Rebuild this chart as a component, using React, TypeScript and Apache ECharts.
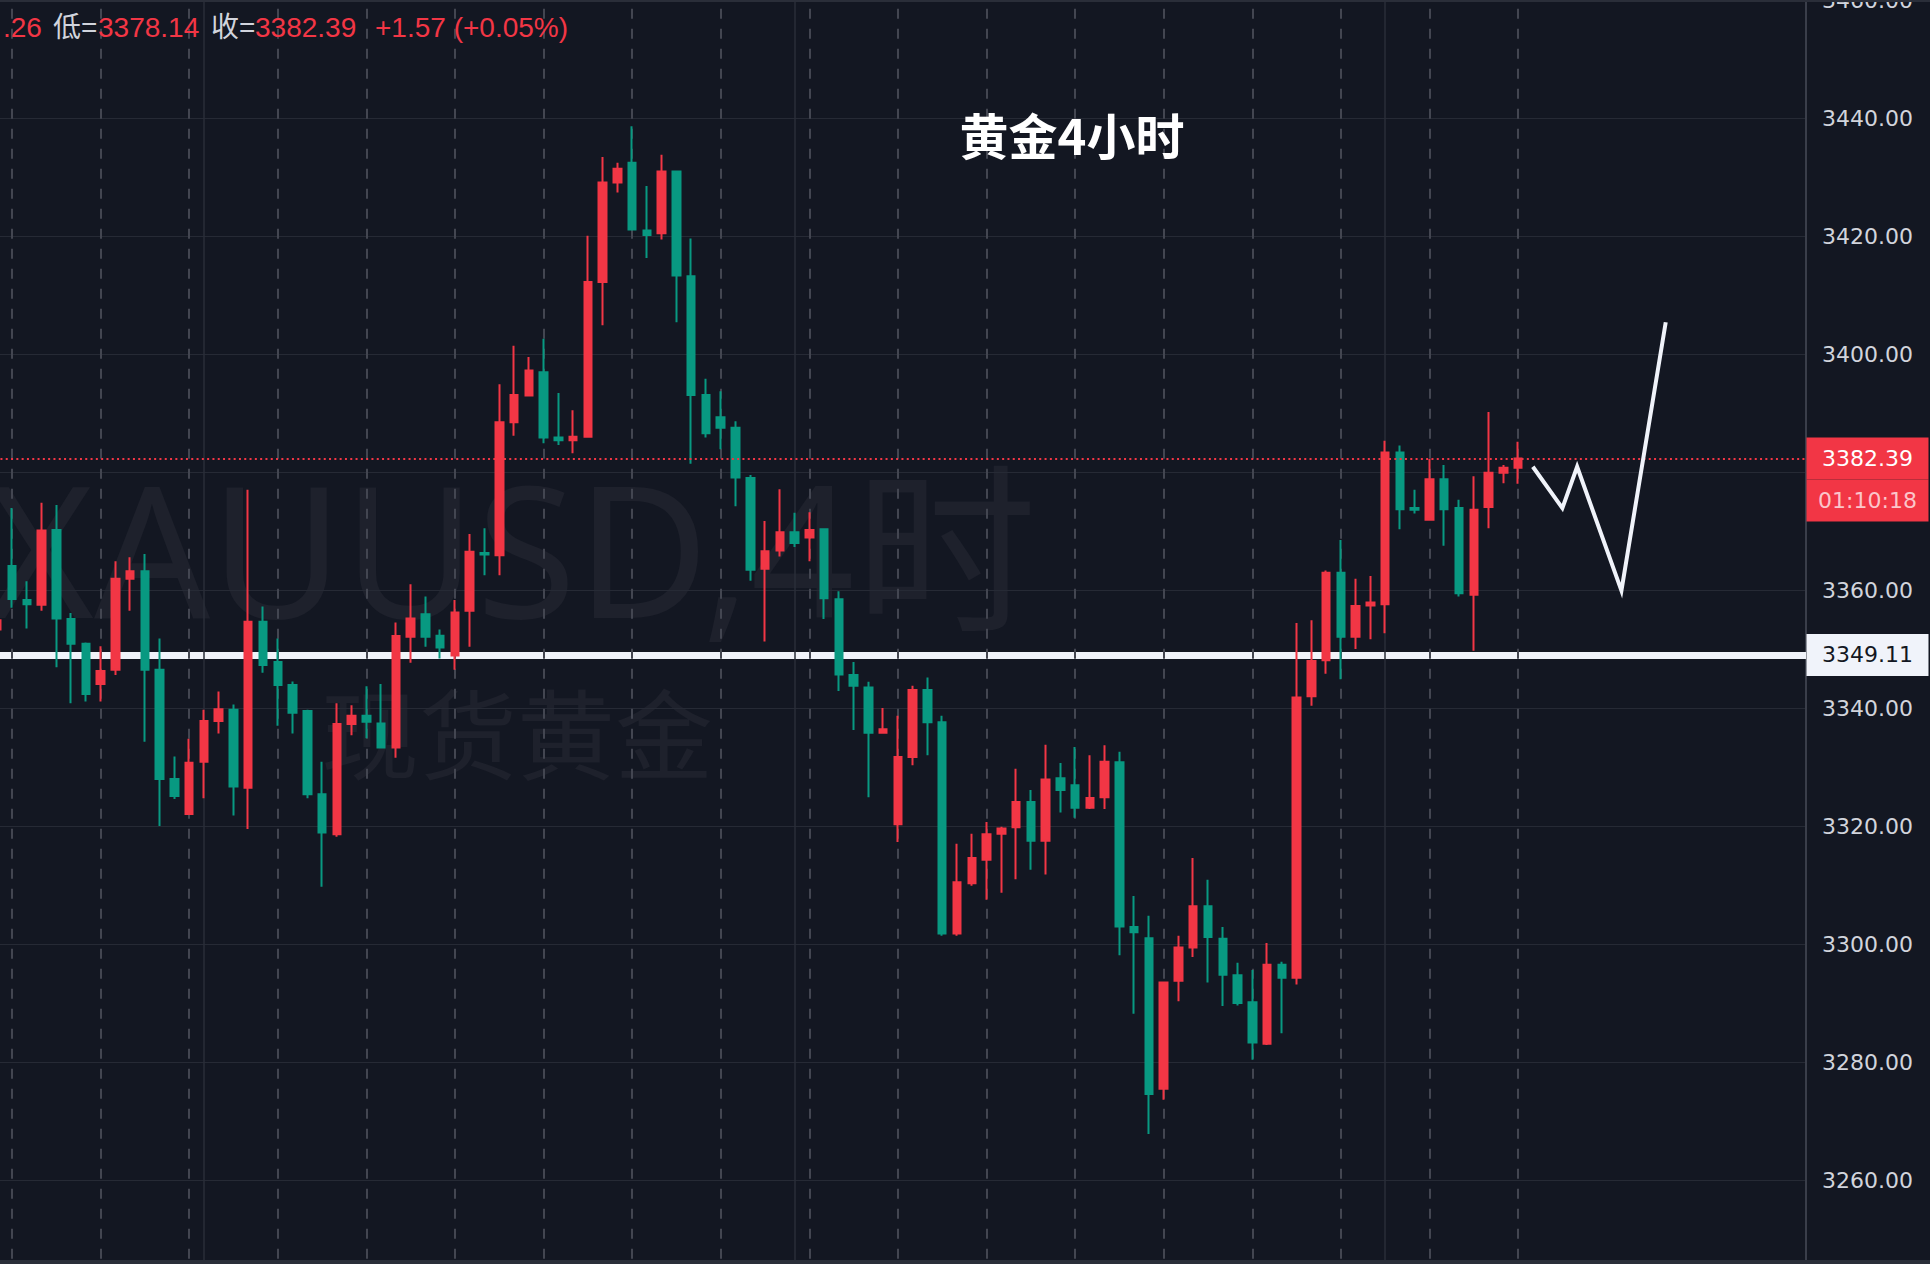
import React, { useEffect, useRef } from 'react';
import * as echarts from 'echarts';

// ---- data (index -1 .. 102, 4h candles) ----
const FIRST_INDEX = -1;
const LAST_SLOT = 121;

const opens = [
  3353.4, 3364.2, 3358.4, 3357.6, 3370.3, 3355.2, 3351.0, 3344.2, 3346.6, 3362.0,
  3363.3, 3346.6, 3328.1, 3322.15, 3331.0, 3337.9, 3339.8, 3326.6, 3354.75, 3347.9,
  3344.0, 3339.6, 3325.5, 3318.7, 3337.4, 3338.8, 3337.5, 3333.4, 3352.2, 3356.0,
  3352.35, 3349.0, 3356.6, 3366.4, 3366.0, 3388.55, 3393.1, 3397.0, 3385.95, 3385.5,
  3386.1, 3412.3, 3429.2, 3432.55, 3421.05, 3420.6, 3431.05, 3413.3, 3393.15, 3389.4,
  3387.6, 3379.1, 3363.7, 3366.8, 3369.9, 3369.0, 3370.4, 3358.55, 3345.7, 3343.6,
  3335.9, 3320.4, 3331.8, 3343.15, 3337.7, 3301.9, 3310.4, 3314.4, 3318.8, 3319.9,
  3324.2, 3317.6, 3328.2, 3327.0, 3323.2, 3325.0, 3330.9, 3303.0, 3301.1, 3275.6,
  3293.9, 3299.5, 3306.5, 3301.0, 3294.8, 3290.25, 3283.2, 3296.6, 3294.4, 3342.1,
  3348.2, 3363.05, 3352.2, 3357.5, 3357.7, 3383.4, 3374.0, 3372.0, 3378.9, 3374.0,
  3359.3, 3374.2, 3380.0, 3380.82,
];
const closes = [
  3355.0, 3358.6, 3357.7, 3370.2, 3355.3, 3351.0, 3342.5, 3346.4, 3362.0, 3363.3,
  3346.6, 3328.1, 3325.2, 3330.85, 3337.9, 3339.9, 3326.8, 3354.75, 3347.4, 3344.0,
  3339.3, 3325.5, 3319.0, 3337.4, 3338.8, 3337.8, 3333.4, 3352.3, 3355.3, 3352.2,
  3350.35, 3356.3, 3366.6, 3366.15, 3388.55, 3393.15, 3397.3, 3385.95, 3385.5, 3386.1,
  3412.3, 3429.2, 3431.5, 3421.2, 3420.3, 3431.05, 3413.4, 3393.15, 3386.7, 3387.6,
  3379.2, 3363.55, 3366.7, 3369.9, 3368.1, 3370.3, 3358.7, 3345.8, 3343.9, 3335.9,
  3336.5, 3331.8, 3343.15, 3337.7, 3301.9, 3310.6, 3314.7, 3318.7, 3319.7, 3324.2,
  3317.6, 3328.0, 3326.2, 3323.2, 3324.85, 3331.0, 3303.1, 3302.1, 3274.7, 3293.6,
  3299.5, 3306.5, 3301.3, 3294.9, 3290.1, 3283.4, 3296.6, 3294.4, 3341.9, 3348.1,
  3363.05, 3352.2, 3357.4, 3358.0, 3383.4, 3373.8, 3373.7, 3378.9, 3373.8, 3359.55,
  3373.7, 3380.0, 3380.85, 3382.39,
];
const lows = [
  3352.5, 3357.1, 3353.6, 3356.6, 3347.0, 3340.9, 3341.2, 3341.2, 3345.7, 3356.6,
  3334.4, 3320.1, 3324.7, 3322.0, 3324.8, 3335.8, 3321.9, 3319.6, 3346.1, 3337.1,
  3335.8, 3324.8, 3309.8, 3318.3, 3335.5, 3335.0, 3333.3, 3331.7, 3347.8, 3350.5,
  3348.5, 3346.6, 3350.5, 3362.6, 3362.6, 3386.25, 3393.0, 3385.0, 3384.7, 3383.3,
  3386.0, 3405.0, 3427.5, 3421.1, 3416.4, 3419.5, 3405.5, 3381.5, 3385.95, 3383.95,
  3374.3, 3361.7, 3351.4, 3365.8, 3367.4, 3365.0, 3355.2, 3343.0, 3336.4, 3325.0,
  3335.8, 3317.4, 3330.4, 3332.1, 3301.5, 3301.5, 3310.0, 3307.6, 3308.8, 3311.1,
  3312.7, 3311.9, 3322.4, 3321.5, 3323.0, 3323.0, 3298.2, 3288.3, 3267.9, 3273.7,
  3290.4, 3297.9, 3293.6, 3289.6, 3289.7, 3280.5, 3283.0, 3285.0, 3293.25, 3340.5,
  3345.9, 3345.0, 3350.1, 3351.75, 3352.8, 3370.4, 3373.1, 3372.0, 3367.6, 3359.0,
  3349.8, 3370.6, 3378.2, 3378.14,
];
const highs = [
  3356.0, 3374.0, 3361.6, 3374.9, 3374.5, 3356.2, 3351.2, 3350.6, 3365.0, 3365.65,
  3366.2, 3351.9, 3331.9, 3334.9, 3339.8, 3342.9, 3340.7, 3377.1, 3357.3, 3351.9,
  3344.6, 3339.8, 3331.0, 3340.9, 3340.6, 3343.8, 3344.2, 3354.6, 3361.1, 3359.0,
  3353.4, 3358.4, 3369.6, 3370.6, 3395.0, 3401.5, 3399.6, 3402.7, 3393.5, 3390.6,
  3420.15, 3433.5, 3432.55, 3438.7, 3428.6, 3433.9, 3431.2, 3419.7, 3395.9, 3393.8,
  3388.7, 3379.6, 3371.8, 3377.2, 3373.2, 3373.3, 3370.5, 3359.9, 3347.9, 3344.55,
  3340.1, 3338.8, 3343.9, 3345.3, 3338.8, 3317.1, 3318.8, 3320.8, 3320.0, 3329.8,
  3326.2, 3333.9, 3330.8, 3333.5, 3332.1, 3333.8, 3332.7, 3308.25, 3304.9, 3293.75,
  3301.5, 3314.7, 3311.0, 3303.0, 3296.95, 3295.7, 3300.3, 3297.1, 3354.5, 3355.0,
  3363.4, 3368.6, 3362.0, 3362.5, 3385.4, 3384.6, 3377.1, 3382.3, 3381.3, 3375.4,
  3379.4, 3390.3, 3381.3, 3385.26,
];

// vertical lines (candle indices)
const sessionBreaks = [0, 6, 12, 18, 24, 30, 36, 42, 48, 54, 60, 66, 72, 78, 84, 90, 96, 102];
const timeGridLines = [13, 53, 93];

// hand-drawn projection
const projectionIdx = [103, 105, 106, 109, 112];
const projectionPrice = [3381, 3374, 3381, 3360, 3405.5];

// price axis
const yMin = 3240;
const yMax = 3460;
const yStep = 20;

const lastClose = 3382.39;
const countdown = '01:10:18';
const levelPrice = 3349.11;

const headerParts = ['.26', '低=', '3378.14', '收=', '3382.39', '+1.57 (+0.05%)'];
const headerIsValue = [true, false, true, false, true, true];

const title = '黄金4小时';
const watermark1 = 'XAUUSD,4时';
const watermark2 = '现货黄金';

const UP = '#f23645';
const DOWN = '#089981';
const BG = '#131722';
const AXIS_FONT = '"DejaVu Sans", sans-serif';

const slot = (i: number) => i - FIRST_INDEX;

export default function App() {
  const ref = useRef<HTMLDivElement>(null);

  useEffect(() => {
    if (!ref.current) return;
    const chart = echarts.init(ref.current, null, { renderer: 'svg' });

    const categories = Array.from({ length: LAST_SLOT - FIRST_INDEX + 1 }, (_, k) => String(k + FIRST_INDEX));
    const candles = opens.map((o, i) => [o, closes[i], lows[i], highs[i]]);
    const projection = projectionIdx.map((i, k) => [slot(i), projectionPrice[k]]);

    const headerX = [3, 53, 98, 211, 255, 375];

    const option: any = {
      animation: false,
      backgroundColor: BG,
      grid: {
        left: -10.15,
        top: 0.67,
        width: 1816.15,
        height: 1298,
        containLabel: false,
        outerBoundsMode: 'none',
      },
      xAxis: {
        type: 'category',
        data: categories,
        boundaryGap: true,
        axisLine: { show: false },
        axisTick: { show: false },
        axisLabel: { show: false },
        splitLine: { show: false },
      },
      yAxis: {
        type: 'value',
        position: 'right',
        min: yMin,
        max: yMax,
        interval: yStep,
        axisLine: { show: true, lineStyle: { color: '#3a3e4a', width: 2 } },
        axisTick: { show: false },
        axisLabel: {
          color: '#d1d4dc',
          fontSize: 22,
          fontFamily: AXIS_FONT,
          margin: 16,
          showMinLabel: false,
          // labels hidden behind the last-price tag, as on the reference
          formatter: (v: number) => (Math.abs(v - lastClose) < 8 ? '' : v.toFixed(2)),
        },
        splitLine: { show: true, lineStyle: { color: '#262a35', width: 1 } },
      },
      series: [
        {
          type: 'line',
          name: 'level',
          data: [],
          silent: true,
          markLine: {
            z: 0.5,
            silent: true,
            symbol: ['none', 'none'],
            data: [{ yAxis: levelPrice }],
            lineStyle: { color: '#f0f3fa', width: 7, type: 'solid' },
            label: {
              show: true,
              position: 'end',
              distance: 0.5,
              formatter: () => '{w|' + levelPrice.toFixed(2) + '}',
              rich: {
                w: {
                  width: 122,
                  height: 42,
                  lineHeight: 42,
                  align: 'center',
                  backgroundColor: '#f0f3fa',
                  color: '#131722',
                  fontSize: 22,
                  fontFamily: AXIS_FONT,
                },
              },
            },
          },
        },
        {
          type: 'line',
          name: 'vertical',
          data: [],
          silent: true,
          markLine: {
            z: 1,
            silent: true,
            symbol: ['none', 'none'],
            label: { show: false },
            data: [
              ...sessionBreaks.map((i) => ({
                xAxis: slot(i),
                lineStyle: { color: '#434651', width: 2, type: [10, 10] },
              })),
              ...timeGridLines.map((i) => ({
                xAxis: slot(i),
                lineStyle: { color: '#2a2e39', width: 1.5, type: 'solid' },
              })),
            ],
          },
        },
        {
          type: 'candlestick',
          name: 'XAUUSD',
          data: candles,
          barWidth: 8,
          z: 2,
          silent: true,
          itemStyle: {
            color: UP,
            color0: DOWN,
            borderColor: UP,
            borderColor0: DOWN,
            borderWidth: 2,
          },
          markLine: {
            z: 3,
            silent: true,
            symbol: ['none', 'none'],
            data: [{ yAxis: lastClose }],
            lineStyle: { color: UP, width: 2, type: [2, 3.3] },
            label: {
              show: true,
              position: 'end',
              distance: 0.5,
              offset: [0, 21],
              formatter: () => '{p|' + lastClose.toFixed(2) + '}\n{t|' + countdown + '}',
              rich: {
                p: {
                  width: 122,
                  height: 42,
                  lineHeight: 42,
                  align: 'center',
                  backgroundColor: UP,
                  color: '#ffffff',
                  fontSize: 22,
                  fontFamily: AXIS_FONT,
                },
                t: {
                  width: 122,
                  height: 42,
                  lineHeight: 42,
                  align: 'center',
                  backgroundColor: UP,
                  color: 'rgba(255,255,255,0.72)',
                  fontSize: 22,
                  fontFamily: AXIS_FONT,
                },
              },
            },
          },
        },
        {
          type: 'line',
          name: 'projection',
          data: projection,
          z: 4,
          silent: true,
          showSymbol: false,
          symbol: 'none',
          lineStyle: { color: '#f0f3fa', width: 4, join: 'miter', cap: 'butt' },
        },
      ],
      graphic: [
        {
          type: 'text',
          x: 512,
          y: 547,
          z: -1,
          silent: true,
          style: {
            text: watermark1,
            font: 'normal 182px "Noto Sans", "Noto Sans CJK SC", sans-serif',
            fill: '#1e212c',
            align: 'center',
            verticalAlign: 'middle',
          },
        },
        {
          type: 'text',
          x: 517,
          y: 729,
          z: -1,
          silent: true,
          style: {
            text: watermark2,
            font: 'normal 98px "Noto Sans CJK SC", sans-serif',
            fill: '#1e212c',
            align: 'center',
            verticalAlign: 'middle',
          },
        },
        {
          type: 'text',
          x: 1072,
          y: 133,
          z: 20,
          silent: true,
          style: {
            text: title,
            font: 'bold 49px "Noto Sans CJK SC", sans-serif',
            fill: '#ffffff',
            align: 'center',
            verticalAlign: 'middle',
          },
        },
        ...headerParts.map((t, k) => ({
          type: 'text',
          x: headerX[k],
          y: 27,
          z: 20,
          silent: true,
          style: {
            text: t,
            font: 'normal 28px "Liberation Sans", "Noto Sans CJK SC", sans-serif',
            fill: headerIsValue[k] ? UP : '#d1d4dc',
            align: 'left',
            verticalAlign: 'middle',
          },
        })),
        {
          type: 'rect',
          z: 20,
          silent: true,
          shape: { x: 0, y: 0, width: 1930, height: 2 },
          style: { fill: '#2a2e39' },
        },
        {
          type: 'rect',
          z: 20,
          silent: true,
          shape: { x: 0, y: 1260, width: 1930, height: 4 },
          style: { fill: '#2a2e39' },
        },
      ],
    };

    chart.setOption(option);
    return () => chart.dispose();
  }, []);

  return (
    <div
      ref={ref}
      style={{ position: 'fixed', left: 0, top: 0, width: 1930, height: 1264 }}
    />
  );
}
